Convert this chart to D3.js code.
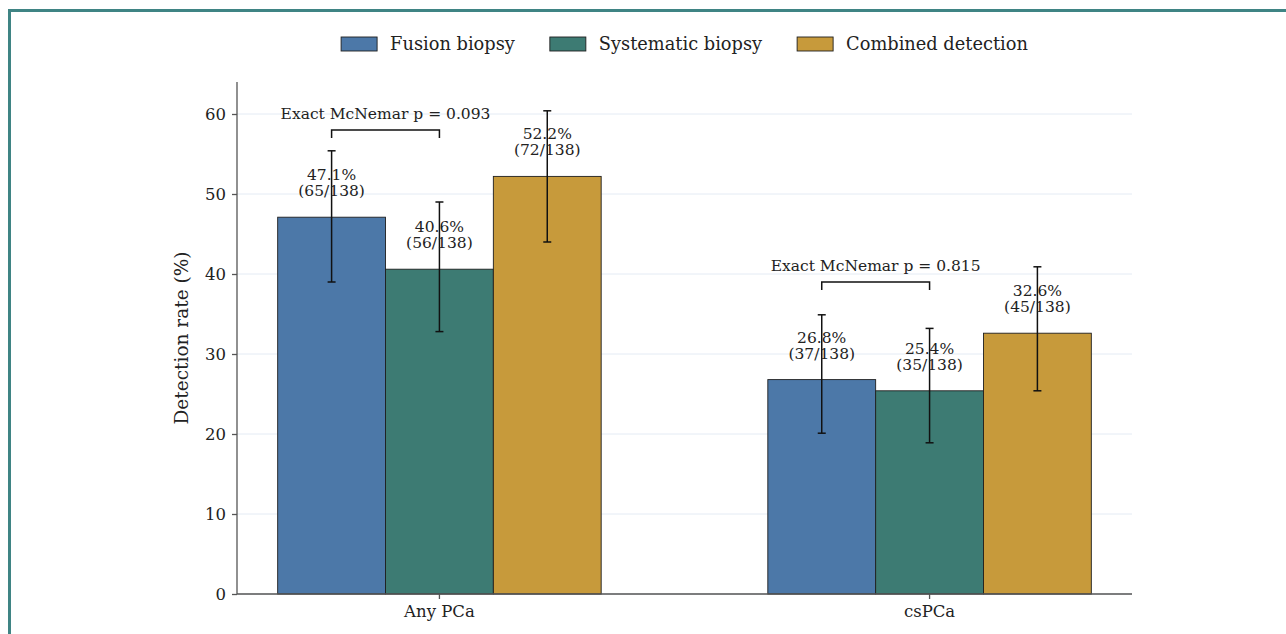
<!DOCTYPE html>
<html>
<head>
<meta charset="utf-8">
<script src="https://cdn.jsdelivr.net/npm/d3@7"></script>
<style>
  html, body { margin: 0; padding: 0; background: #fff; }
  svg { display: block; }
  text { font-family: "DejaVu Serif", serif; fill: #222; }
</style>
</head>
<body>
<svg id="chart" width="1286" height="634"></svg>
<script>
// Detection rates by biopsy strategy, with 95% confidence intervals
const categories = ["Any PCa", "csPCa"];
const seriesNames = ["Fusion biopsy", "Systematic biopsy", "Combined detection"];
const seriesColors = ["#4c78a8", "#3d7b73", "#c79a3b"];
const rates = [
  [47.1, 40.6, 52.2],   // Any PCa
  [26.8, 25.4, 32.6]    // csPCa
];
const counts = [
  ["65/138", "56/138", "72/138"],
  ["37/138", "35/138", "45/138"]
];
const ciLow = [
  [39.0, 32.8, 44.0],
  [20.1, 18.9, 25.4]
];
const ciHigh = [
  [55.4, 49.0, 60.4],
  [34.9, 33.2, 40.9]
];
const pLabels = ["Exact McNemar p = 0.093", "Exact McNemar p = 0.815"];
const bracketLevel = [58.0, 39.0];
const yTicks = [0, 10, 20, 30, 40, 50, 60];

const svg = d3.select("#chart");

// outer frame
svg.append("rect")
  .attr("x", 9.5).attr("y", 10.5)
  .attr("width", 1400).attr("height", 800)
  .attr("fill", "none")
  .attr("stroke", "#3f8484")
  .attr("stroke-width", 3);

const plot = { left: 237, right: 1132, top: 82, bottom: 594 };

const x0 = d3.scaleBand()
  .domain(categories)
  .range([plot.left, plot.right])
  .paddingInner(0.34)
  .paddingOuter(0.083);

const x1 = d3.scaleBand()
  .domain(seriesNames)
  .range([0, x0.bandwidth()])
  .padding(0);

const y = d3.scaleLinear().domain([0, 64]).range([plot.bottom, plot.top]);

// horizontal grid
svg.append("g")
  .selectAll("line")
  .data(yTicks)
  .join("line")
  .attr("x1", plot.left).attr("x2", plot.right)
  .attr("y1", d => y(d)).attr("y2", d => y(d))
  .attr("stroke", "#e4ebf4")
  .attr("stroke-width", 1);

// bars
const groups = svg.append("g")
  .selectAll("g")
  .data(categories)
  .join("g")
  .attr("transform", d => `translate(${x0(d)},0)`);

groups.each(function (cat, ci) {
  const g = d3.select(this);
  const rows = seriesNames.map((s, si) => ({
    s, si, v: rates[ci][si], lo: ciLow[ci][si], hi: ciHigh[ci][si], n: counts[ci][si]
  }));

  g.selectAll("rect")
    .data(rows)
    .join("rect")
    .attr("x", d => x1(d.s))
    .attr("y", d => y(d.v))
    .attr("width", x1.bandwidth())
    .attr("height", d => y(0) - y(d.v))
    .attr("fill", d => seriesColors[d.si])
    .attr("stroke", "#1f1f1f")
    .attr("stroke-width", 0.9);

  const cx = d => x1(d.s) + x1.bandwidth() / 2;

  // error bars
  const eb = g.selectAll("g.err").data(rows).join("g").attr("class", "err");
  eb.append("line")
    .attr("x1", cx).attr("x2", cx)
    .attr("y1", d => y(d.lo)).attr("y2", d => y(d.hi))
    .attr("stroke", "#111").attr("stroke-width", 1.5);
  eb.append("line")
    .attr("x1", d => cx(d) - 4).attr("x2", d => cx(d) + 4)
    .attr("y1", d => y(d.hi)).attr("y2", d => y(d.hi))
    .attr("stroke", "#111").attr("stroke-width", 1.5);
  eb.append("line")
    .attr("x1", d => cx(d) - 4).attr("x2", d => cx(d) + 4)
    .attr("y1", d => y(d.lo)).attr("y2", d => y(d.lo))
    .attr("stroke", "#111").attr("stroke-width", 1.5);

  // value labels
  const lbl = g.selectAll("text.val").data(rows).join("text")
    .attr("class", "val")
    .attr("text-anchor", "middle")
    .style("font-size", "15.5px")
    .attr("fill", "#222");
  lbl.append("tspan")
    .attr("x", cx)
    .attr("y", d => y(d.v) - 37)
    .text(d => d.v.toFixed(1) + "%");
  lbl.append("tspan")
    .attr("x", cx)
    .attr("y", d => y(d.v) - 21)
    .text(d => "(" + d.n + ")");

  // McNemar bracket between fusion and systematic
  const a = cx(rows[0]), b = cx(rows[1]);
  const yb = y(bracketLevel[ci]);
  const yt = y(bracketLevel[ci] - 1);
  g.append("path")
    .attr("d", `M${a},${yt}V${yb}H${b}V${yt}`)
    .attr("fill", "none")
    .attr("stroke", "#111")
    .attr("stroke-width", 1.5);
  g.append("text")
    .attr("x", (a + b) / 2)
    .attr("y", yb - 11)
    .attr("text-anchor", "middle")
    .style("font-size", "15.5px")
    .text(pLabels[ci]);
});

// axes
const yAxis = svg.append("g")
  .attr("transform", `translate(${plot.left},0)`)
  .call(d3.axisLeft(y).tickValues(yTicks).tickSize(5).tickPadding(6));
const xAxis = svg.append("g")
  .attr("transform", `translate(0,${plot.bottom})`)
  .call(d3.axisBottom(x0).tickSize(5).tickPadding(6));
[yAxis, xAxis].forEach(ax => {
  ax.select(".domain").attr("stroke", "#555").attr("stroke-width", 1.3);
  ax.selectAll(".tick line").attr("stroke", "#555").attr("stroke-width", 1.3);
  ax.selectAll(".tick text")
    .style("font-family", "'DejaVu Serif', serif")
    .style("font-size", "16.5px")
    .attr("fill", "#222");
});
// spines span the full plot extent
yAxis.select(".domain").attr("d", `M0,${plot.bottom}V${plot.top}`);
xAxis.select(".domain").attr("d", `M${plot.left},0H${plot.right}`);

svg.append("text")
  .attr("transform", `translate(188,${(plot.top + plot.bottom) / 2}) rotate(-90)`)
  .attr("text-anchor", "middle")
  .style("font-size", "18.5px")
  .text("Detection rate (%)");

// legend, centred over the plot
const legend = svg.append("g");
const items = legend.selectAll("g").data(seriesNames).join("g");
items.append("rect")
  .attr("width", 36).attr("height", 14)
  .attr("y", -7)
  .attr("fill", (d, i) => seriesColors[i])
  .attr("stroke", "#1f1f1f").attr("stroke-width", 0.9);
items.append("text")
  .attr("x", 49).attr("y", 6)
  .style("font-size", "17.8px")
  .text(d => d);
let offset = 0;
items.each(function () {
  const w = this.getBBox().width;
  d3.select(this).attr("transform", `translate(${offset},0)`);
  offset += w + 35;
});
const legendWidth = offset - 35;
legend.attr("transform",
  `translate(${(plot.left + plot.right) / 2 - legendWidth / 2},44)`);
</script>
</body>
</html>
